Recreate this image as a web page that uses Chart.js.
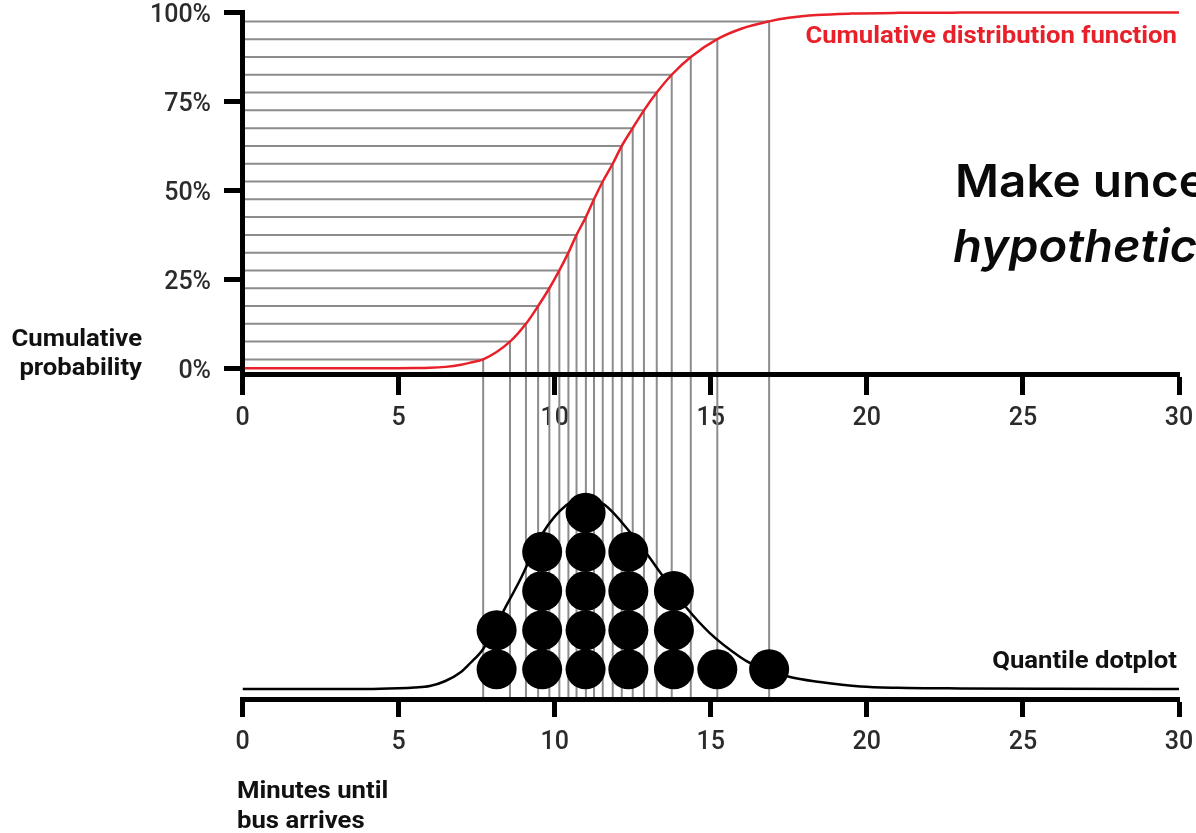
<!DOCTYPE html>
<html>
<head>
<meta charset="utf-8">
<script src="https://cdn.jsdelivr.net/npm/chart.js@4.4.1/dist/chart.umd.min.js"></script>
<style>
html,body{margin:0;padding:0;background:#fff;overflow:hidden;}
#wrap{width:1196px;height:833px;position:relative;}
canvas{display:block;}
</style>
</head>
<body>
<div id="wrap"><canvas id="c" width="1196" height="833"></canvas></div>
<script>
// ---------------- DATA ----------------
const xTickValues = [0, 5, 10, 15, 20, 25, 30];
const probTickValues = [0, 0.25, 0.5, 0.75, 1];

// 20 quantile levels and the minutes at which the CDF reaches them
const quantileLevels = [0.025, 0.075, 0.125, 0.175, 0.225, 0.275, 0.325, 0.375, 0.425, 0.475,
                        0.525, 0.575, 0.625, 0.675, 0.725, 0.775, 0.825, 0.875, 0.925, 0.975];
const quantileMinutes = [7.71, 8.57, 9.08, 9.47, 9.83, 10.15, 10.44, 10.70, 11.00, 11.26,
                         11.54, 11.86, 12.15, 12.50, 12.86, 13.27, 13.75, 14.36, 15.21, 16.87];

// Cumulative distribution function curve (read points)
const cdfMinutes = [0, 4, 5, 5.5, 6, 6.5, 7, 7.3, 7.71, 8.57, 9.08, 9.47, 9.83, 10.15, 10.44, 10.70,
                    11.00, 11.26, 11.54, 11.86, 12.15, 12.50, 12.86, 13.27, 13.75, 14.36, 15.21, 16.0,
                    16.87, 17.5, 18.4, 19.5, 21, 23, 26, 30];
const cdfProbability = [0, 0, 0.0002, 0.0005, 0.0012, 0.004, 0.010, 0.016, 0.025, 0.075, 0.125, 0.175,
                        0.225, 0.275, 0.325, 0.375, 0.425, 0.475, 0.525, 0.575, 0.625, 0.675, 0.725,
                        0.775, 0.825, 0.875, 0.925, 0.955, 0.975, 0.985, 0.993, 0.997, 0.999, 0.9997, 1, 1];

// Density curve behind the dotplot (read points)
const densityMinutes = [0, 4, 5, 5.5, 6, 6.5, 7, 7.3, 7.71, 8.41, 8.89, 9.62, 10.38, 10.99, 11.61,
                        12.41, 13.05, 13.37, 14.23, 14.97, 15.94, 16.26, 17.54, 18.5, 19.8, 21, 23, 26, 30];
const densityValues = [0, 0, 0.0007, 0.0014, 0.0027, 0.0073, 0.0155, 0.0237, 0.0365, 0.0738, 0.0994,
                       0.1422, 0.1677, 0.175, 0.1677, 0.1431, 0.1194, 0.1067, 0.0738, 0.0510, 0.0292,
                       0.0237, 0.0109, 0.0064, 0.0023, 0.0011, 0.0005, 0.0002, 0];

// Quantile dotplot: bin centres (minutes) and number of dots stacked in each bin
const dotBinMinutes = [8.14, 9.60, 10.99, 12.36, 13.82, 15.21, 16.87];
const dotBinCounts = [2, 4, 5, 4, 3, 1, 1];

// ---------------- LAYOUT CONSTANTS (pixels) ----------------
const W = 1196, H = 833;
const AREA_LEFT = 242.5, AREA_RIGHT = 1179, AREA_TOP = 10, AREA_BOTTOM = 699;
const PROB0_PX = 368.3, PROB_PX = 355.8;   // top panel: 0% pixel, pixels per unit probability
const TOP_AXIS_PX = 374.5;                  // top x axis line
const ROW0_PX = 669.3, ROW_PX = 39.15;      // dot rows
const DENS0_PX = 689, DENS_PX = 1097;       // density baseline and scale

const yMin = (PROB0_PX - AREA_BOTTOM) / PROB_PX;
const yMax = (PROB0_PX - AREA_TOP) / PROB_PX;
const topAxisValue = (PROB0_PX - TOP_AXIS_PX) / PROB_PX;
const dMin = (ROW0_PX - AREA_BOTTOM) / ROW_PX, dMax = (ROW0_PX - AREA_TOP) / ROW_PX;
const kMin = (DENS0_PX - AREA_BOTTOM) / DENS_PX, kMax = (DENS0_PX - AREA_TOP) / DENS_PX;

// ---------------- BUILD DATASETS ----------------
const GRAY = '#8c8c8c', RED = '#e8202a', INK = '#111111', TICK_INK = '#2b2b2b';

const cdfPoints = cdfMinutes.map((m, i) => ({x: m, y: cdfProbability[i]}));
const densityPoints = densityMinutes.map((m, i) => ({x: m, y: densityValues[i]}));
const hLinePoints = [], vLinePoints = [];
quantileMinutes.forEach((q, i) => {
  const p = quantileLevels[i];
  hLinePoints.push({x: 0, y: p}, {x: q, y: p}, {x: q, y: null});
  vLinePoints.push({x: q, y: p}, {x: q, y: yMin}, {x: q, y: null});
});
const dotPoints = [];
dotBinMinutes.forEach((m, i) => {
  for (let k = 0; k < dotBinCounts[i]; k++) dotPoints.push({x: m, y: k});
});

const tickFont = {family: 'Roboto', size: 25, weight: '500'};

function fixX(scale, h) {
  scale.paddingLeft = 0; scale.paddingRight = 0;
  if (h !== undefined) scale.height = h;
}

function drawText(ctx, text, x, y, align, font, color, sx) {
  ctx.save();
  ctx.font = font;
  ctx.fillStyle = color;
  ctx.textAlign = align;
  ctx.textBaseline = 'alphabetic';
  ctx.translate(x, y);
  ctx.scale(sx, 1);
  ctx.fillText(text, 0, 0);
  ctx.restore();
}

const annotations = {
  id: 'annotations',
  afterDraw(chart) {
    const ctx = chart.ctx;
    const xs = chart.scales.x, ys = chart.scales.y;
    // y axis line of the top panel (0% .. 100%)
    const ax = xs.getPixelForValue(0);
    ctx.save();
    ctx.strokeStyle = '#000';
    ctx.lineWidth = 5;
    ctx.beginPath();
    ctx.moveTo(ax, ys.getPixelForValue(1) - 2.5);
    ctx.lineTo(ax, ys.getPixelForValue(topAxisValue) + 2.5);
    ctx.stroke();
    ctx.restore();

    const lab = 'bold 24px Roboto', SX = 1.07;
    drawText(ctx, 'Cumulative', 142, 346, 'right', lab, INK, SX);
    drawText(ctx, 'probability', 142, 375, 'right', lab, INK, SX);
    drawText(ctx, 'Minutes until', 237, 798, 'left', lab, INK, SX);
    drawText(ctx, 'bus arrives', 237, 828, 'left', lab, INK, SX);
    drawText(ctx, 'Cumulative distribution function', 1177, 43, 'right', lab, RED, SX);
    drawText(ctx, 'Quantile dotplot', 1177, 668, 'right', lab, INK, SX);
    // headline (runs off the right edge)
    drawText(ctx, 'Make uncertainty', 955, 197, 'left', '600 45px Inter', '#0a0a0a', 1.06);
    drawText(ctx, 'hypothetical outcomes', 953, 262, 'left', 'italic 600 45px Inter', '#0a0a0a', 1.05);
  }
};

const xCommon = {
  type: 'linear', min: 0, max: 30,
  afterBuildTicks: s => { s.ticks = xTickValues.map(v => ({value: v})); },
  grid: {drawOnChartArea: false, drawTicks: true, tickLength: 18, tickWidth: 5, tickColor: '#000', z: 1},
  border: {display: true, color: '#000', width: 5, z: 1},
  ticks: {font: tickFont, color: TICK_INK, padding: 11, maxRotation: 0, autoSkip: false}
};

new Chart(document.getElementById('c'), {
  type: 'scatter',
  data: {
    datasets: [
      {label: 'dots', type: 'scatter', data: dotPoints, xAxisID: 'x', yAxisID: 'yDots',
       pointRadius: 20, pointHoverRadius: 20, pointBackgroundColor: '#000', pointBorderWidth: 0, order: 0},
      {label: 'density', type: 'line', data: densityPoints, xAxisID: 'x', yAxisID: 'yDens',
       borderColor: '#000', borderWidth: 2.5, pointRadius: 0, cubicInterpolationMode: 'monotone', fill: false, order: 1},
      {label: 'cdf', type: 'line', data: cdfPoints, xAxisID: 'x', yAxisID: 'y',
       borderColor: RED, borderWidth: 2.5, pointRadius: 0, cubicInterpolationMode: 'monotone', fill: false, order: 2},
      {label: 'hlines', type: 'line', data: hLinePoints, xAxisID: 'x', yAxisID: 'y',
       borderColor: GRAY, borderWidth: 2, pointRadius: 0, spanGaps: false, tension: 0, order: 3},
      {label: 'vlines', type: 'line', data: vLinePoints, xAxisID: 'x', yAxisID: 'y',
       borderColor: GRAY, borderWidth: 2, pointRadius: 0, spanGaps: false, tension: 0, order: 4}
    ]
  },
  options: {
    responsive: false,
    devicePixelRatio: 1,
    animation: false,
    events: [],
    layout: {autoPadding: false, padding: {left: 0, right: W - AREA_RIGHT, top: AREA_TOP, bottom: 0}},
    plugins: {legend: {display: false}, tooltip: {enabled: false}, title: {display: false}},
    scales: {
      x: Object.assign({}, xCommon, {
        position: 'bottom',
        afterFit: s => fixX(s, H - AREA_BOTTOM)
      }),
      xTop: Object.assign({}, xCommon, {
        axis: 'x',
        position: {y: topAxisValue},
        afterFit: s => fixX(s)
      }),
      y: {
        type: 'linear', position: 'left', min: yMin, max: yMax,
        afterBuildTicks: s => { s.ticks = probTickValues.map(v => ({value: v})); },
        afterFit: s => { s.width = AREA_LEFT; s.paddingTop = 0; s.paddingBottom = 0; },
        grid: {drawOnChartArea: false, drawTicks: true, tickLength: 18.5, tickWidth: 5, tickColor: '#000', z: 1},
        border: {display: false},
        ticks: {font: tickFont, color: TICK_INK, padding: 13, labelOffset: 3,
                callback: v => Math.round(v * 100) + '%'}
      },
      yDots: {type: 'linear', display: false, min: dMin, max: dMax},
      yDens: {type: 'linear', display: false, min: kMin, max: kMax}
    }
  },
  plugins: [annotations]
});
</script>
</body>
</html>
